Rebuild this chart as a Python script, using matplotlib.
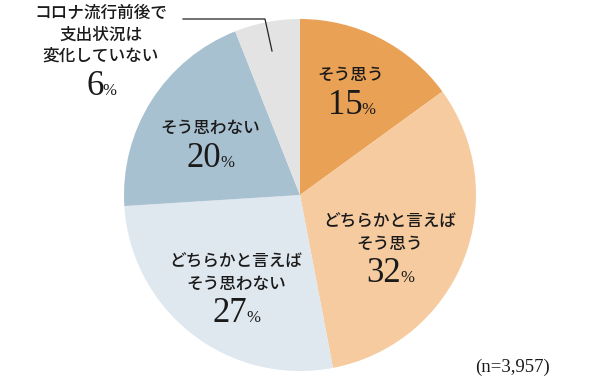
import matplotlib
matplotlib.use("Agg")
import matplotlib.pyplot as plt

# data
labels = ["そう思う", "どちらかと言えば\nそう思う", "どちらかと言えば\nそう思わない",
          "そう思わない", "コロナ流行前後で\n支出状況は\n変化していない"]
values = [15, 32, 27, 20, 6]
colors = ["#E9A155", "#F6CBA0", "#DFE7EF", "#A8C1D1", "#E3E3E3"]
# label centre (x px, y px of first line)
label_pos = [(351, 75), (390, 222), (236, 262), (210, 128), (101, 13)]
note = "(n=3,957)"

jp_font = "Noto Sans CJK JP"
num_font = "Liberation Serif"
txt_color = "#1a1a1a"

fig = plt.figure(figsize=(6, 3.8), dpi=100)
ax = fig.add_axes([0, 0, 1, 1])
ax.set_xlim(0, 600)
ax.set_ylim(0, 380)
ax.set_aspect("equal")
ax.axis("off")

ax.pie(values, colors=colors, startangle=90, counterclock=False,
       center=(300, 380 - 195), radius=176,
       wedgeprops=dict(linewidth=0))
ax.set_xlim(0, 600)
ax.set_ylim(0, 380)

renderer = fig.canvas.get_renderer()


def Y(y):
    return 380 - y


def pct_label(x, ybase, num):
    t1 = ax.text(0, Y(ybase), num, fontsize=25, family=num_font,
                 color=txt_color, ha="left", va="baseline")
    t2 = ax.text(0, Y(ybase), "%", fontsize=12, family=num_font,
                 color=txt_color, ha="left", va="baseline")
    w1 = t1.get_window_extent(renderer).width
    w2 = t2.get_window_extent(renderer).width
    left = x - (w1 + w2) / 2
    t1.set_x(left)
    t2.set_x(left + w1 - 1)


for lab, v, (x, y) in zip(labels, values, label_pos):
    lines = lab.split("\n")
    for i, line in enumerate(lines):
        ax.text(x, Y(y + i * 21.5), line, fontsize=12, family=jp_font,
                weight="medium", color=txt_color, ha="center", va="center")
    pct_label(x + 1, y + (len(lines) - 1) * 21.5 + 39, str(v))

# leader line for the small slice
ax.plot([183, 265, 272], [Y(19), Y(19), Y(51)], color="#222222", lw=0.9)

ax.text(513, Y(367), note, fontsize=13.5, family=num_font, color=txt_color,
        ha="center", va="center")

fig.savefig("out.png", dpi=100)
